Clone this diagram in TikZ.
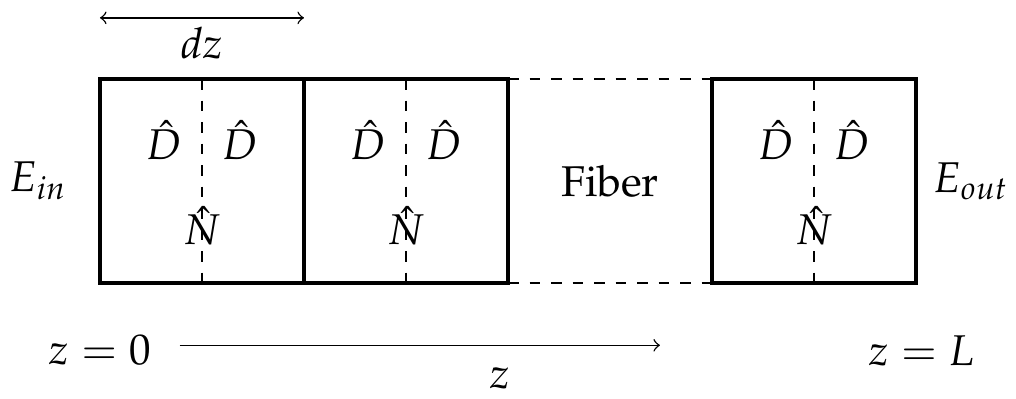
\documentclass[tikz,border=0pt]{standalone}
\usepackage[T1]{fontenc}
\usepackage{mathpazo}
\usepackage{amsmath}
\usepackage{tikz}
\usetikzlibrary{positioning}

\begin{document}
\begin{tikzpicture}[font=\large,
  cell/.style={rectangle, draw, line width=1.2pt, minimum size=2cm, inner sep=0pt, outer sep=0pt},
  half/.style={dashed, thin}]
\useasboundingbox (-0.98,-1.127) rectangle (8.98,2.775);
% split-step slices
\node[cell] (S1) at (1,1) {};
\node[cell] (S2) at (3,1) {};
\node[cell] (S3) at (7,1) {};
\foreach \s in {S1,S2,S3}{
  \draw[half] (\s.north) -- (\s.south);
  \node (\s DL) at ([shift={(-0.37,0.4)}]\s.center) {$\hat{D}$};
  \node (\s DR) at ([shift={(0.37,0.4)}]\s.center) {$\hat{D}$};
  \node (\s N) at ([shift={(0,-0.44)}]\s.center) {$\hat{N}$};
}
% rest of the fiber
\draw[half] (S2.north east) -- (S3.north west);
\draw[half] (S2.south east) -- (S3.south west);
\node (fib) at (5,1) {Fiber};
\node[left=0.2cm of S1] (Ein) {$E_{in}$};
\node[right=0.05cm of S3] (Eout) {$E_{out}$};
% step length
\coordinate (dzL) at (0,2.6);
\coordinate (dzR) at (2,2.6);
\draw[<->] (dzL) -- (dzR);
\node (dz) at (1,2.35) {$dz$};
% propagation axis
\node (z0) at (0,-0.66) {$z = 0$};
\node (zL) at (8.06,-0.66) {$z = L$};
\coordinate (zA) at (0.78,-0.61);
\coordinate (zB) at (5.49,-0.61);
\draw[->] (zA) -- (zB);
\node (zlab) at (3.92,-0.93) {$z$};
\end{tikzpicture}
\end{document}
